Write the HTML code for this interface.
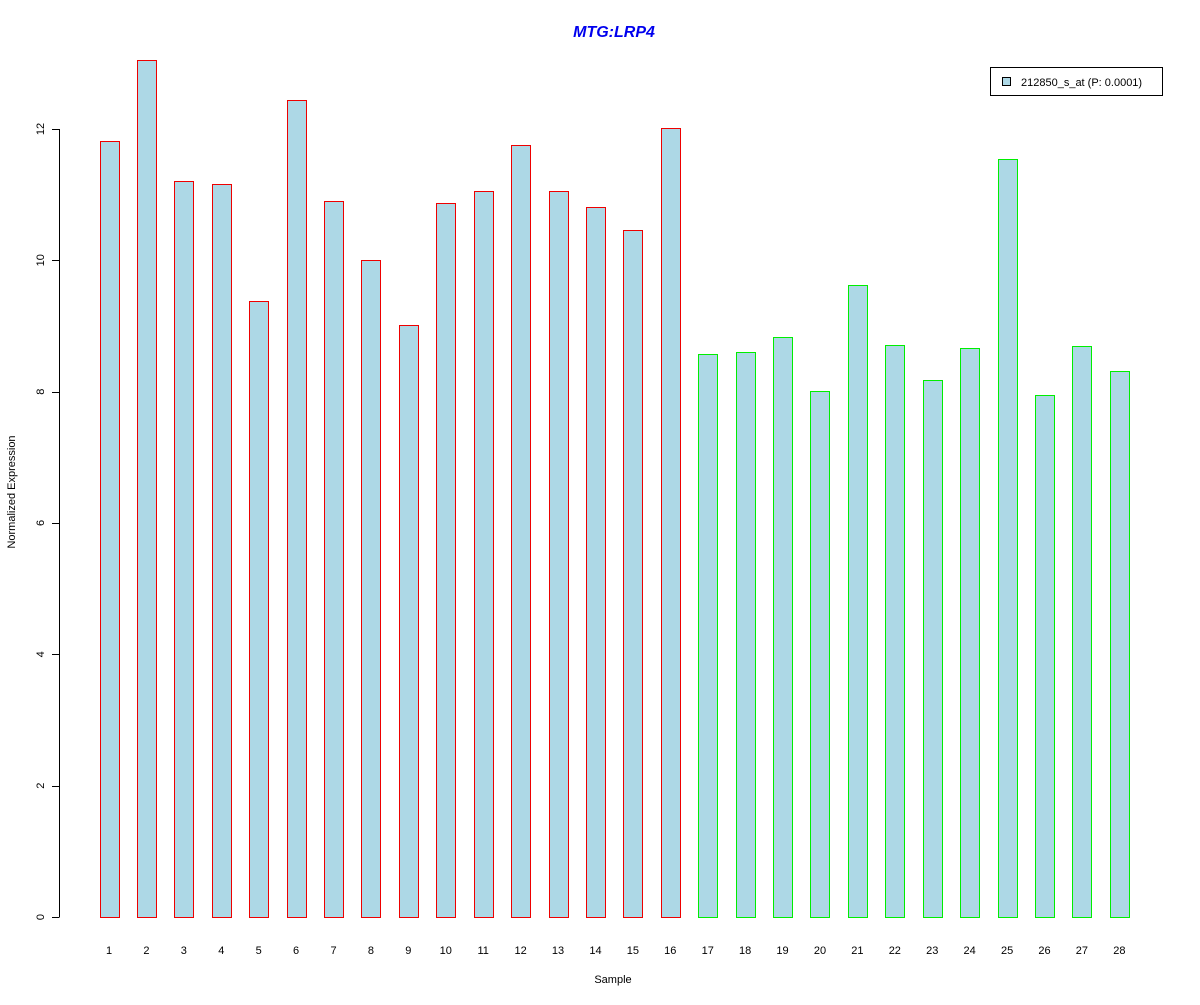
<!DOCTYPE html>
<html><head><meta charset="utf-8"><style>
body{margin:0;background:#fff;}
svg text{font-family:"Liberation Sans",Arial,sans-serif;}
</style></head><body>
<svg id="chart" width="1200" height="1000" xmlns="http://www.w3.org/2000/svg">
<rect width="1200" height="1000" fill="#fff"/>
<text x="614" y="37" text-anchor="middle" font-size="16" font-weight="bold" font-style="italic" fill="#0000ee">MTG:LRP4</text>
<text transform="translate(15,492) rotate(-90)" text-anchor="middle" font-size="11">Normalized Expression</text>
<text x="613" y="983" text-anchor="middle" font-size="11">Sample</text>
<g id="yaxis"></g>
<g id="bars"></g>
<g id="xlabels"></g>
<g>
<rect x="990.5" y="67.5" width="172" height="28" fill="#fff" stroke="#000"/>
<rect x="1002.5" y="77.5" width="8" height="8" fill="#add8e6" stroke="#000"/>
<text x="1021" y="86" font-size="11">212850_s_at (P: 0.0001)</text>
</g>
</svg>
<script>
const categories=["1","2","3","4","5","6","7","8","9","10","11","12","13","14","15","16","17","18","19","20","21","22","23","24","25","26","27","28"];
const values=[11.82,13.05,11.21,11.16,9.38,12.44,10.90,10.0,9.01,10.87,11.06,11.76,11.06,10.81,10.46,12.01,8.57,8.60,8.83,8.01,9.62,8.71,8.18,8.66,11.54,7.95,8.70,8.31];
const groups=["red","red","red","red","red","red","red","red","red","red","red","red","red","red","red","red","green","green","green","green","green","green","green","green","green","green","green","green"];
const yTicks=[0,2,4,6,8,10,12];
const NS="http://www.w3.org/2000/svg";
const y=v=>917-v*65.67;
const xc=i=>109+i*37.42;
function mk(t,a,p){const e=document.createElementNS(NS,t);for(const k in a)e.setAttribute(k,a[k]);p.appendChild(e);return e;}
const ya=document.getElementById('yaxis');
const al=mk('line',{x1:59.5,x2:59.5,y1:y(0),y2:y(12),stroke:'#000'},ya);


yTicks.forEach(t=>{
 const l=mk('line',{x1:52,x2:59.5,y1:Math.round(y(t))+0.5,y2:Math.round(y(t))+0.5,stroke:'#000'},ya);
 
 
 const tx=mk('text',{transform:`translate(44,${y(t)}) rotate(-90)`,'text-anchor':'middle','font-size':11},ya);
 tx.textContent=t;
 
 
});
const bg=document.getElementById('bars'),xg=document.getElementById('xlabels');
values.forEach((v,i)=>{
 const r=mk('rect',{x:Math.round(xc(i)-9.5)+0.5,y:Math.round(y(v))+0.5,width:19,height:Math.round(y(0))-Math.round(y(v)),fill:'#add8e6',stroke:groups[i]==='red'?'#ee0000':'#00ee00'},bg);
 
 
 const t=mk('text',{x:xc(i),y:954,'text-anchor':'middle','font-size':11},xg);
 t.textContent=categories[i];
 
 
});
</script>
</body></html>
